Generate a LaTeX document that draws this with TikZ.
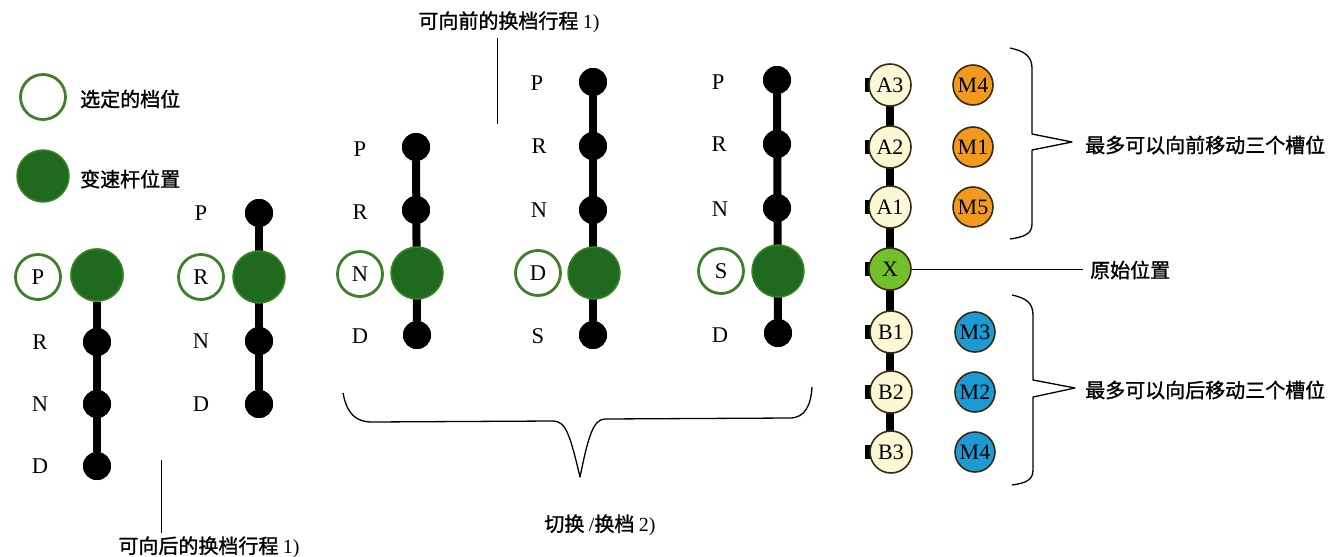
\documentclass[tikz,border=0pt]{standalone}
\usepackage{fontspec}
\setmainfont{Liberation Serif}
\newfontfamily\cjk[FakeBold=1.3]{Noto Sans CJK SC}
\definecolor{levergreen}{HTML}{1F6A1F}
\definecolor{selgreen}{HTML}{3F7F2A}
\definecolor{cream}{HTML}{FBF8D6}
\definecolor{xgreen}{HTML}{72C02C}
\definecolor{morange}{HTML}{F29A1D}
\definecolor{mblue}{HTML}{1C9AD4}
\definecolor{rim}{HTML}{3A2A12}
\tikzset{
  x=1pt, y=-1pt,
  lbl/.style={font=\fontsize{22.5}{25}\selectfont, inner sep=0pt},
  cn/.style={font=\fontsize{20}{23}\selectfont\cjk, inner sep=0pt},
  dotnode/.style={circle, fill=black, minimum size=28pt, inner sep=0pt},
  lever/.style={circle, fill=levergreen, draw=levergreen!70!xgreen, line width=1.5pt, minimum size=52pt, inner sep=0pt},
  selpos/.style={circle, fill=white, draw=selgreen, line width=2.8pt, minimum size=45pt, inner sep=0pt, font=\fontsize{22.5}{25}\selectfont},
  stick/.style={line width=8pt, black},
  slot/.style={circle, draw=rim, line width=1.6pt, minimum size=42pt, inner sep=0pt, font=\fontsize{22}{25}\selectfont},
  aslot/.style={slot, fill=cream},
  mslot/.style={slot, minimum size=40pt},
  bracket/.style={line width=1.3pt, black, line join=round},
  leader/.style={line width=1pt, black}
}
\begin{document}
\begin{tikzpicture}
\useasboundingbox (0,0) rectangle (1331,557);

% legend
\node[selpos] (legsel) at (43,97) {};
\node[cn, anchor=west] (legseltxt) at (80,99) {选定的档位};
\node[lever] (leglever) at (43,176) {};
\node[cn, anchor=west] (leglevertxt) at (80,179) {变速杆位置};

% column 1: lever in P
\node[dotnode] (c1R) at (97,342) {};
\node[dotnode] (c1N) at (97,404) {};
\node[dotnode] (c1D) at (97,466) {};
\node[lever] (c1L) at (97,275) {};
\draw[stick] (c1L) -- (c1D);
\node[lever] at (c1L) {};
\node[dotnode] at (c1R) {};\node[dotnode] at (c1N) {};\node[dotnode] at (c1D) {};
\node[selpos] (c1sel) at (38,277) {P};
\node[lbl] (c1lR) at (40,342) {R};
\node[lbl] (c1lN) at (40,404) {N};
\node[lbl] (c1lD) at (40,466) {D};

% column 2: lever in R
\node[dotnode] (c2P) at (259,213) {};
\node[dotnode] (c2N) at (259,341) {};
\node[dotnode] (c2D) at (259,404) {};
\draw[stick] (c2P) -- (c2D);
\node[lever] (c2L) at (259,277) {};
\node[dotnode] at (c2P) {};\node[dotnode] at (c2N) {};\node[dotnode] at (c2D) {};
\node[selpos] (c2sel) at (201,277) {R};
\node[lbl] (c2lP) at (201,213) {P};
\node[lbl] (c2lN) at (201,341) {N};
\node[lbl] (c2lD) at (201,404) {D};

% column 3: lever in N
\node[dotnode] (c3P) at (416,147) {};
\node[dotnode] (c3R) at (416,210) {};
\node[dotnode] (c3D) at (417,335) {};
\draw[stick] (c3P) -- (c3D);
\node[lever] (c3L) at (417,273) {};
\node[dotnode] at (c3P) {};\node[dotnode] at (c3R) {};\node[dotnode] at (c3D) {};
\node[selpos] (c3sel) at (360,274) {N};
\node[lbl] (c3lP) at (360,149) {P};
\node[lbl] (c3lR) at (360,212) {R};
\node[lbl] (c3lD) at (360,336) {D};

% column 4: lever in D
\node[dotnode] (c4P) at (593,82) {};
\node[dotnode] (c4R) at (593,146) {};
\node[dotnode] (c4N) at (593,210) {};
\node[dotnode] (c4S) at (593,335) {};
\draw[stick] (c4P) -- (c4S);
\node[lever] (c4L) at (594,273) {};
\node[dotnode] at (c4P) {};\node[dotnode] at (c4R) {};\node[dotnode] at (c4N) {};\node[dotnode] at (c4S) {};
\node[selpos] (c4sel) at (538,273) {D};
\node[lbl] (c4lP) at (537,83) {P};
\node[lbl] (c4lR) at (539,146) {R};
\node[lbl] (c4lN) at (539,210) {N};
\node[lbl] (c4lS) at (538,336) {S};

% column 5: lever in S
\node[dotnode] (c5P) at (777,80) {};
\node[dotnode] (c5R) at (777,144) {};
\node[dotnode] (c5N) at (777,208) {};
\node[dotnode] (c5D) at (778,333) {};
\draw[stick] (c5P) -- (c5D);
\node[lever] (c5L) at (778,271) {};
\node[dotnode] at (c5P) {};\node[dotnode] at (c5R) {};\node[dotnode] at (c5N) {};\node[dotnode] at (c5D) {};
\node[selpos] (c5sel) at (721,271) {S};
\node[lbl] (c5lP) at (718,82) {P};
\node[lbl] (c5lR) at (719,144) {R};
\node[lbl] (c5lN) at (720,209) {N};
\node[lbl] (c5lD) at (720,335) {D};

% shift travel annotations
\node[cn] (fwdtxt) at (509,22) {可向前的换档行程 {\rmfamily 1)}};
\coordinate (fwdtop) at (497,38);
\coordinate (fwdbot) at (497,124);
\draw[leader] (fwdtop) -- (fwdbot);
\node[cn] (backtxt) at (209,547) {可向后的换档行程 {\rmfamily 1)}};
\coordinate (backtop) at (161,460);
\coordinate (backbot) at (161,533);
\draw[leader] (backtop) -- (backbot);

% switching brace
\coordinate (brL) at (343,393);
\coordinate (brR) at (812,387);
\coordinate (brTip) at (580,477);
\draw[bracket] (brL) .. controls (347,414) and (356,422) .. (372,422)
  -- (553,421) .. controls (566,421) and (570,435) .. (brTip)
  .. controls (588,438) and (593,419) .. (605,419)
  -- (790,418) .. controls (805,418) and (811,405) .. (brR);
\node[cn] (switchtxt) at (600,525) {切换 {\rmfamily /}换档 {\rmfamily 2)}};

% slot chain
\draw[line width=8pt, black] (890,85) -- (890,452);
\foreach \y in {85,147,207,269,332,392,452}
  \fill[black] (865,\y-7) rectangle (872,\y+7);
\node[aslot] (A3) at (890,85) {A3};
\node[aslot] (A2) at (890,147) {A2};
\node[aslot] (A1) at (890,207) {A1};
\node[slot, fill=xgreen] (X) at (890,269) {X};
\node[aslot] (B1) at (891,332) {B1};
\node[aslot] (B2) at (891,392) {B2};
\node[aslot] (B3) at (891,452) {B3};

\node[mslot, fill=morange] (M4a) at (973,85) {M4};
\node[mslot, fill=morange] (M1) at (973,147) {M1};
\node[mslot, fill=morange] (M5) at (973,207) {M5};
\node[mslot, fill=mblue] (M3) at (975,332) {M3};
\node[mslot, fill=mblue] (M2) at (975,392) {M2};
\node[mslot, fill=mblue] (M4b) at (975,452) {M4};

% original position
\coordinate (xend) at (1083,269);
\draw[leader] (X.east) -- (xend);
\node[cn, anchor=west] (xtxt) at (1090,270) {原始位置};

% upper brace
\coordinate (ubTop) at (1010,48);
\coordinate (ubTip) at (1072,142);
\coordinate (ubBot) at (1010,239);
\draw[bracket] (ubTop) .. controls (1024,51) and (1032,56) .. (1032,68)
  -- (1032,134) -- (ubTip) -- (1032,150) -- (1032,224)
  .. controls (1032,234) and (1024,237) .. (ubBot);
\node[cn, anchor=west] (fwdslots) at (1085,145) {最多可以向前移动三个槽位};

% lower brace
\coordinate (lbTop) at (1012,295);
\coordinate (lbTip) at (1075,388);
\coordinate (lbBot) at (1012,485);
\draw[bracket] (lbTop) .. controls (1026,298) and (1033,303) .. (1033,315)
  -- (1033,380) -- (lbTip) -- (1033,397) -- (1033,470)
  .. controls (1033,480) and (1026,483) .. (lbBot);
\node[cn, anchor=west] (backslots) at (1085,390) {最多可以向后移动三个槽位};
\end{tikzpicture}
\end{document}
